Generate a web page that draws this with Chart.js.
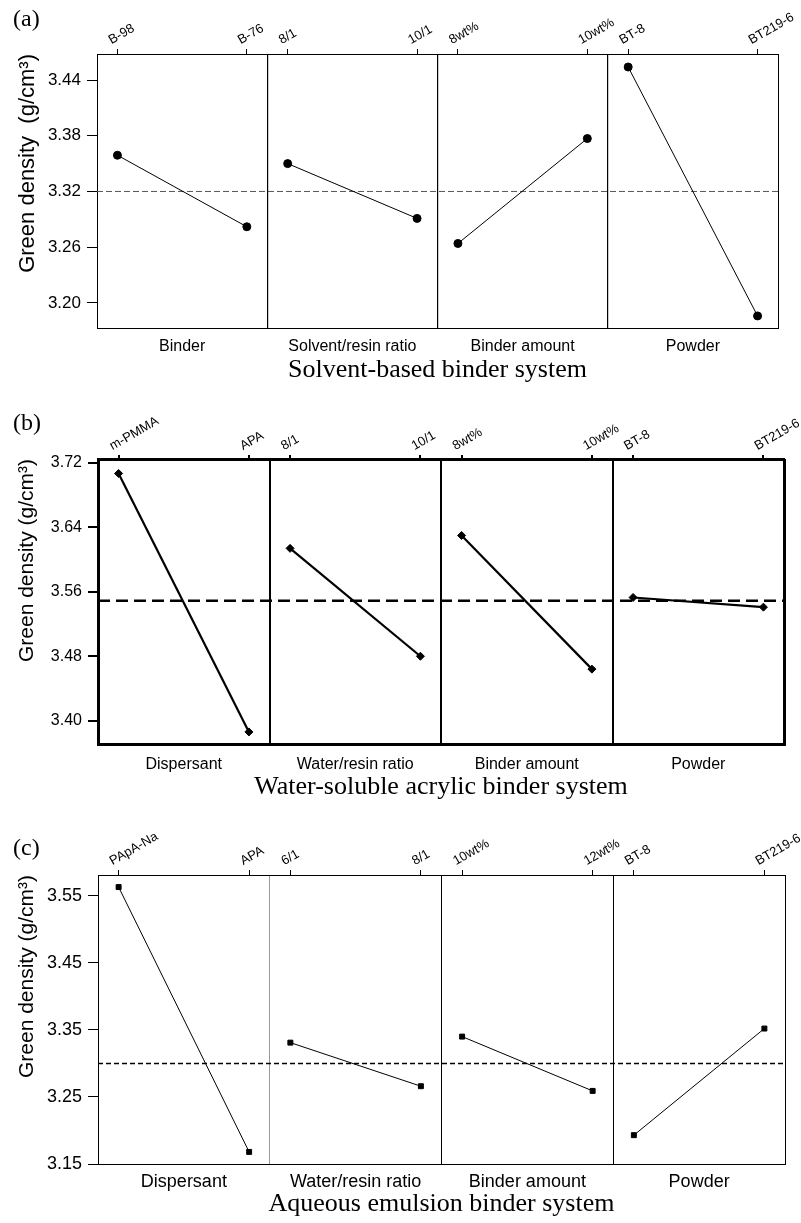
<!DOCTYPE html>
<html>
<head>
<meta charset="utf-8">
<script src="https://cdn.jsdelivr.net/npm/chart.js@4.4.1/dist/chart.umd.min.js"></script>
<style>
  body { margin: 0; background: #fff; }
  #page { position: relative; width: 801px; height: 1223px; background: #fff; }
  canvas { position: absolute; left: 0; }
</style>
</head>
<body>
<div id="page">
  <canvas id="chartA" width="801" height="395" style="top:0px"></canvas>
  <canvas id="chartB" width="801" height="410" style="top:395px"></canvas>
  <canvas id="chartC" width="801" height="418" style="top:805px"></canvas>
</div>
<script>
// (a) solvent-based binder system
const factorsA = ['Binder', 'Solvent/resin ratio', 'Binder amount', 'Powder'];
const levelsA = ['B-98', 'B-76', '8/1', '10/1', '8wt%', '10wt%', 'BT-8', 'BT219-6'];
const densityA = [3.359, 3.282, 3.350, 3.291, 3.264, 3.377, 3.454, 3.186];
const meanA = 3.32;
const yTicksA = [3.20, 3.26, 3.32, 3.38, 3.44];

// (b) water-soluble acrylic binder system
const factorsB = ['Dispersant', 'Water/resin ratio', 'Binder amount', 'Powder'];
const levelsB = ['m-PMMA', 'APA', '8/1', '10/1', '8wt%', '10wt%', 'BT-8', 'BT219-6'];
const densityB = [3.707, 3.386, 3.614, 3.480, 3.630, 3.464, 3.553, 3.541];
const meanB = 3.549;
const yTicksB = [3.40, 3.48, 3.56, 3.64, 3.72];

// (c) aqueous emulsion binder system
const factorsC = ['Dispersant', 'Water/resin ratio', 'Binder amount', 'Powder'];
const levelsC = ['PApA-Na', 'APA', '6/1', '8/1', '10wt%', '12wt%', 'BT-8', 'BT219-6'];
const densityC = [3.563, 3.168, 3.331, 3.266, 3.340, 3.259, 3.193, 3.352];
const meanC = 3.30;
const yTicksC = [3.15, 3.25, 3.35, 3.45, 3.55];

// where the two levels sit inside each factor block
const LO = 0.12, HI = 0.88;

Chart.defaults.font.family = '"Liberation Sans", Arial, sans-serif';
Chart.defaults.color = '#000';

const panelLetter = {
  id: 'panelLetter',
  afterDraw(chart, args, opts) {
    const ctx = chart.ctx;
    ctx.save();
    ctx.font = '24px "Liberation Serif", "Times New Roman", serif';
    ctx.fillStyle = '#000';
    ctx.textBaseline = 'middle';
    ctx.fillText(opts.text, opts.x, opts.y);
    ctx.restore();
  }
};

function makePanel(id, p) {
  const levelX = [];
  const datasets = [];
  for (let i = 0; i < 4; i++) {
    levelX.push(i + LO, i + HI);
    datasets.push({
      data: [{x: i + LO, y: p.values[2 * i]}, {x: i + HI, y: p.values[2 * i + 1]}],
      borderColor: '#000',
      backgroundColor: '#000',
      borderWidth: p.lineW,
      pointStyle: p.marker,
      pointRadius: p.markerR,
      pointBorderWidth: 1
    });
  }
  datasets.push({
    data: [{x: 0, y: p.mean}, {x: 4, y: p.mean}],
    borderColor: p.dashColor,
    borderWidth: p.dashW,
    borderDash: p.dash,
    pointRadius: 0
  });

  new Chart(document.getElementById(id), {
    type: 'line',
    data: { datasets: datasets },
    plugins: [panelLetter],
    options: {
      responsive: false,
      animation: false,
      layout: { padding: { left: 0, right: p.right, top: 0, bottom: 0 } },
      plugins: {
        legend: { display: false },
        tooltip: { enabled: false },
        panelLetter: p.letter
      },
      scales: {
        x: {
          type: 'linear', position: 'bottom', min: 0, max: 4,
          afterBuildTicks: s => { s.ticks = [0, 0.5, 1, 1.5, 2, 2.5, 3, 3.5, 4].map(v => ({value: v})); },
          ticks: {
            autoSkip: false, maxRotation: 0, minRotation: 0,
            padding: p.labelPad, font: { size: p.labelSize }, color: '#000',
            callback: v => Number.isInteger(v) ? '' : p.factors[Math.floor(v)]
          },
          grid: {
            drawTicks: false,
            color: c => {
              const v = c.tick.value;
              if (!Number.isInteger(v)) return 'rgba(0,0,0,0)';
              return (v === 1 && p.firstDivColor) ? p.firstDivColor : '#000';
            },
            lineWidth: c => (c.tick.value === 0 || c.tick.value === 4) ? p.frameW : p.divW
          },
          border: { display: true, color: '#000', width: p.frameW },
          title: {
            display: true, text: p.title, color: '#000',
            font: { family: '"Liberation Serif", "Times New Roman", serif', size: 26 },
            padding: { top: 0, bottom: p.titlePad }
          },
          afterFit: s => { s.height = p.bottomH; s.paddingLeft = 0; s.paddingRight = 0; }
        },
        xTop: {
          type: 'linear', position: 'top', min: 0, max: 4,
          afterBuildTicks: s => { s.ticks = levelX.map(v => ({value: v})); },
          ticks: {
            autoSkip: false, minRotation: 30, maxRotation: 30, padding: 1,
            font: { size: p.topSize }, color: '#000',
            callback: (v, i) => p.levels[i]
          },
          grid: { drawOnChartArea: false, tickLength: p.topTick, color: '#000', lineWidth: p.tickW },
          border: { display: true, color: '#000', width: p.frameW },
          afterFit: s => { s.height = p.topH; s.paddingLeft = 0; s.paddingRight = 0; }
        },
        y: {
          min: p.yMin, max: p.yMax,
          afterBuildTicks: s => { s.ticks = p.yTicks.map(v => ({value: v})); },
          ticks: {
            callback: v => v.toFixed(2), font: { size: p.tickSize }, color: '#000', padding: 6
          },
          grid: { drawOnChartArea: false, tickLength: 10, color: '#000', lineWidth: p.tickW },
          border: { display: false },
          title: {
            display: true, text: p.yTitle, color: '#000', align: 'end',
            font: { size: p.yTitleSize },
            padding: { top: 15, bottom: 0 }
          },
          afterFit: s => { s.width = p.left; s.paddingTop = 0; s.paddingBottom = 0; }
        }
      }
    }
  });
}

makePanel('chartA', {
  factors: factorsA, levels: levelsA, values: densityA, mean: meanA, yTicks: yTicksA,
  yMin: 3.173, yMax: 3.468,
  title: 'Solvent-based binder system', yTitle: 'Green density  (g/cm³)',
  letter: { text: '(a)', x: 13, y: 20 },
  left: 97, right: 23, topH: 54, bottomH: 67,
  labelPad: 9, titlePad: 9, labelSize: 16, topSize: 13, tickSize: 17, yTitleSize: 22,
  lineW: 1, marker: 'circle', markerR: 4,
  dashColor: '#555', dashW: 1, dash: [6, 3],
  frameW: 1, divW: 1.2, tickW: 1, topTick: 5
});

makePanel('chartB', {
  factors: factorsB, levels: levelsB, values: densityB, mean: meanB, yTicks: yTicksB,
  yMin: 3.371, yMax: 3.725,
  title: 'Water-soluble acrylic binder system', yTitle: 'Green density (g/cm³)',
  letter: { text: '(b)', x: 13, y: 29 },
  left: 98, right: 17, topH: 64, bottomH: 61,
  labelPad: 11, titlePad: 2, labelSize: 16, topSize: 13, tickSize: 16, yTitleSize: 21,
  lineW: 2.2, marker: 'rectRot', markerR: 4,
  dashColor: '#000', dashW: 2.5, dash: [12, 6],
  frameW: 3, divW: 2, tickW: 2, topTick: 4
});

makePanel('chartC', {
  factors: factorsC, levels: levelsC, values: densityC, mean: meanC, yTicks: yTicksC,
  yMin: 3.15, yMax: 3.581,
  title: 'Aqueous emulsion binder system', yTitle: 'Green density (g/cm³)',
  letter: { text: '(c)', x: 13, y: 44 },
  left: 98, right: 16, topH: 70, bottomH: 59,
  labelPad: 7, titlePad: 3, labelSize: 18, topSize: 13, tickSize: 18, yTitleSize: 21,
  lineW: 1, marker: 'rect', markerR: 3.5,
  dashColor: '#000', dashW: 1.5, dash: [5, 3],
  frameW: 1, divW: 1, tickW: 1, topTick: 5, firstDivColor: '#999'
});
</script>
</body>
</html>
